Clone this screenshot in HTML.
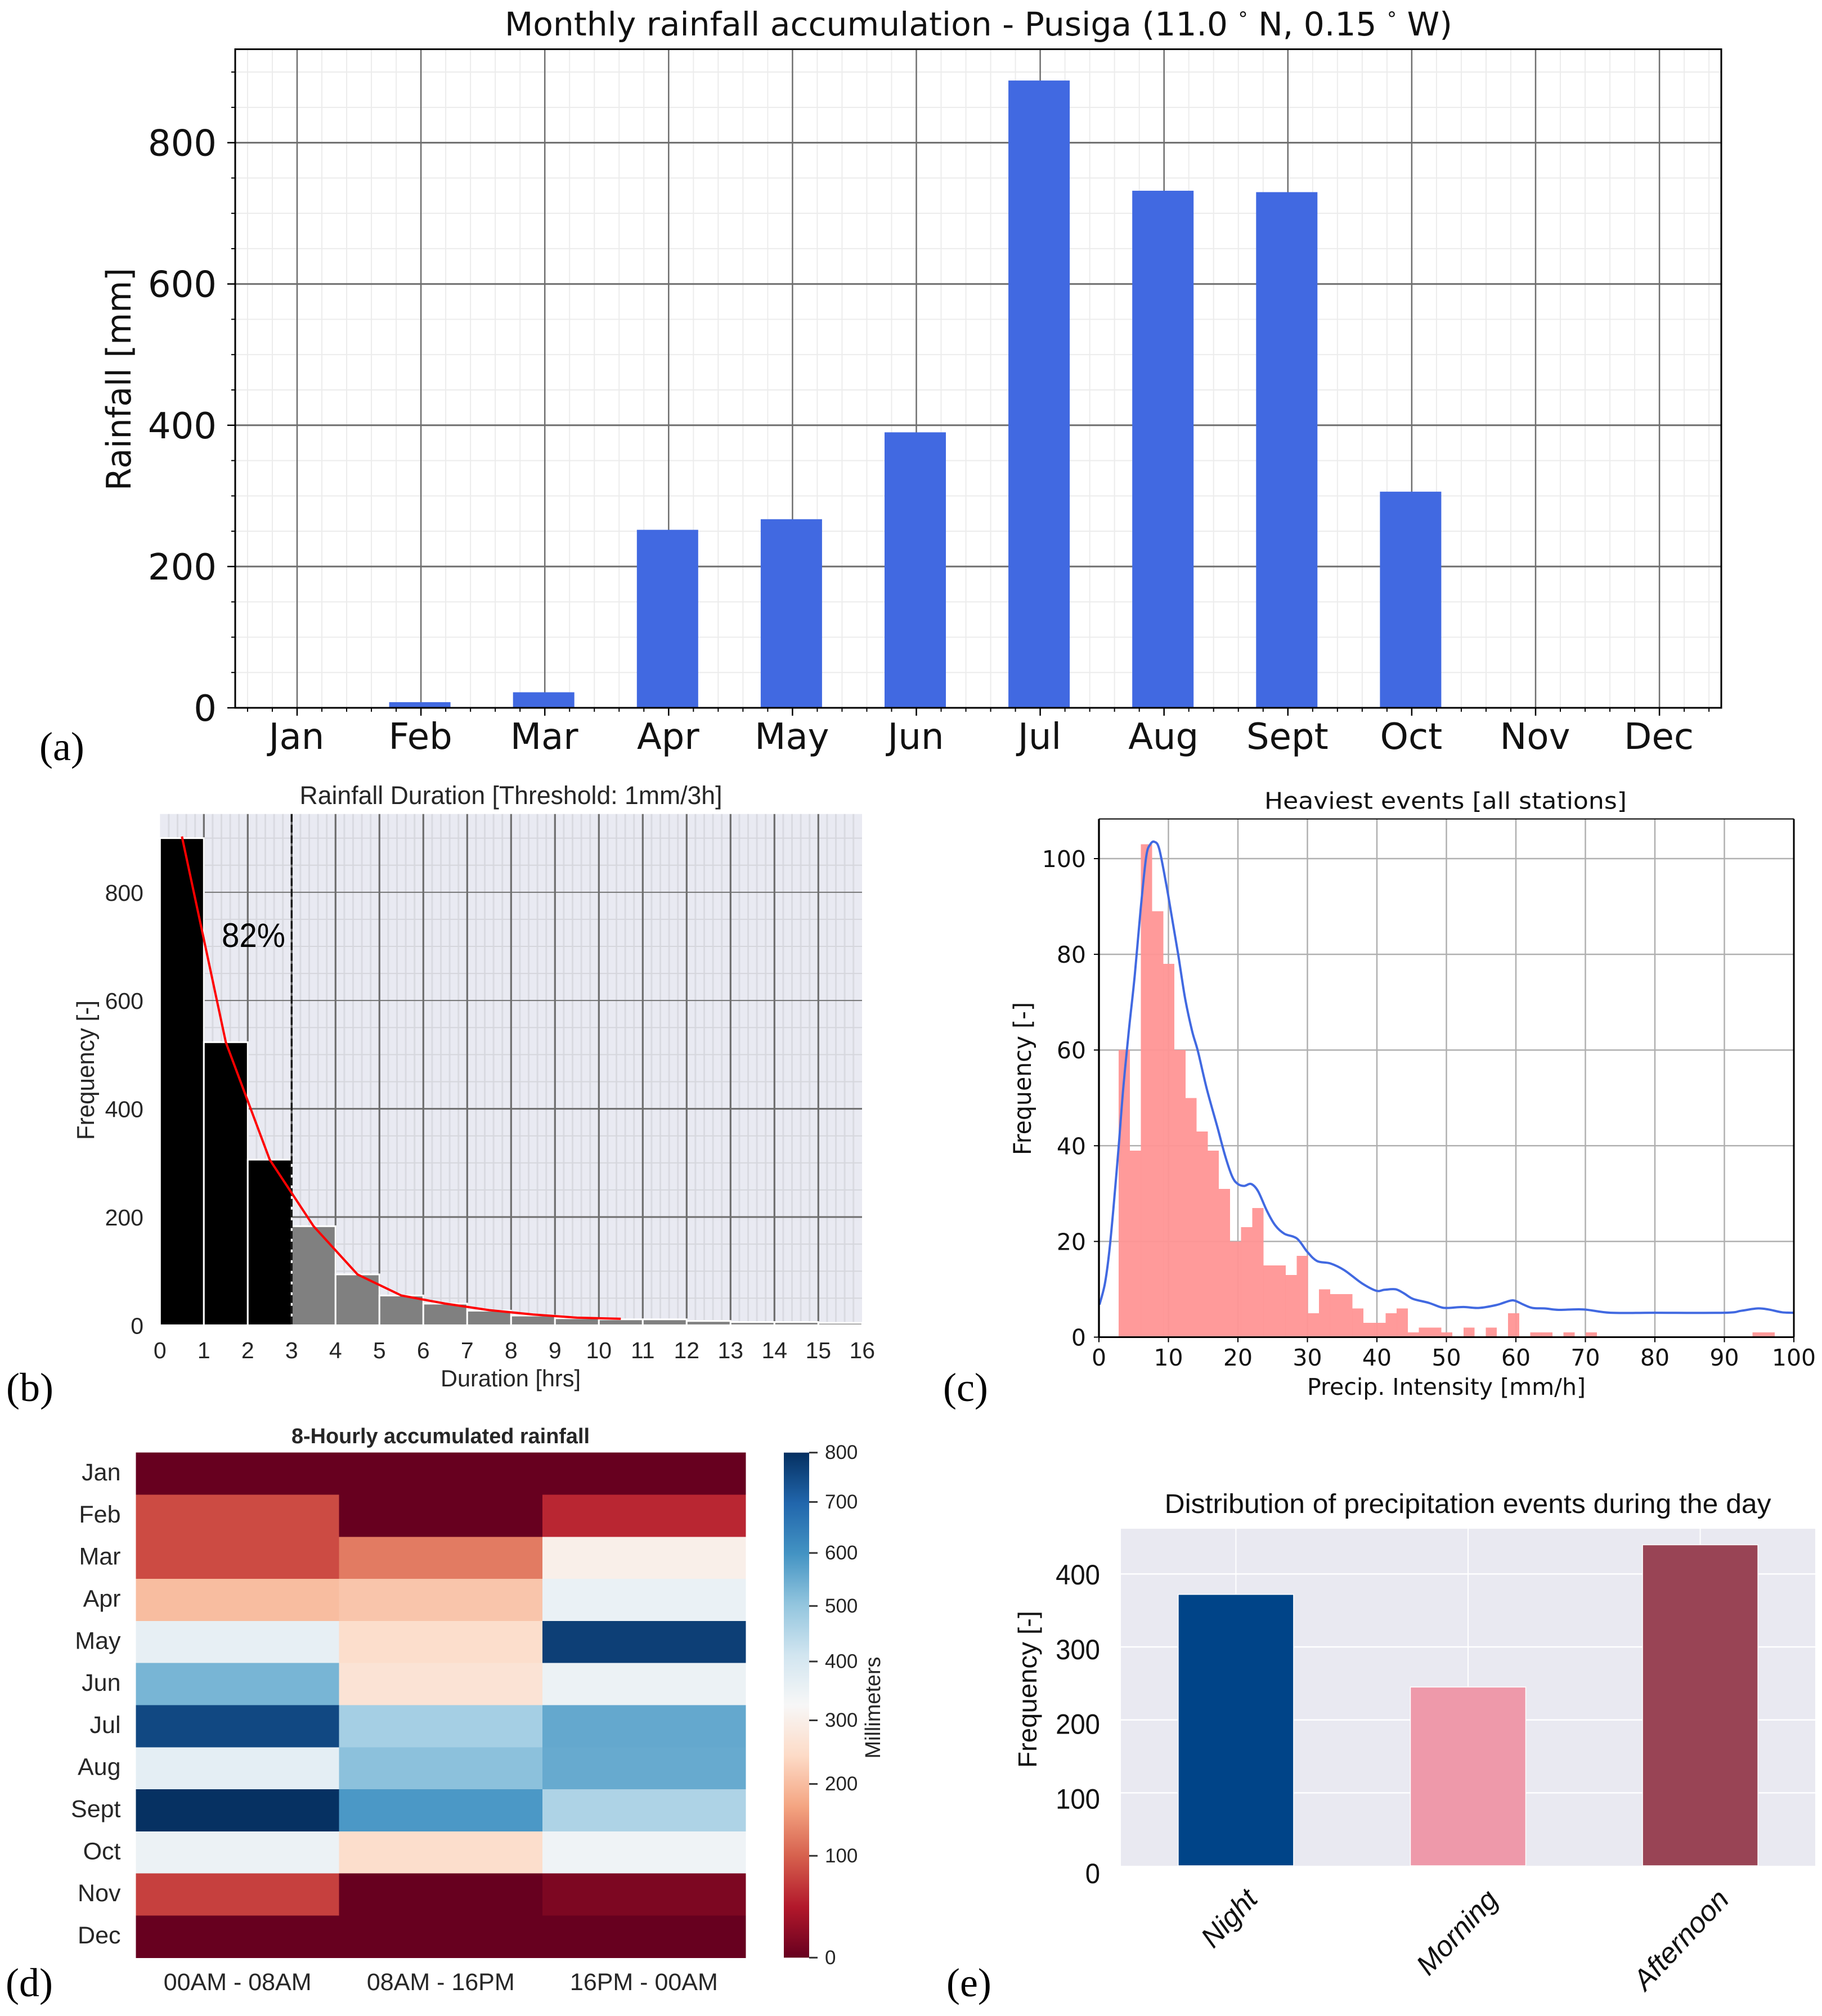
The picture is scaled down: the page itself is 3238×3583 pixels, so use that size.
<!DOCTYPE html>
<html lang="en">
<head>
<meta charset="utf-8">
<title>Rainfall statistics - Pusiga</title>
<style>
html,body{margin:0;padding:0;background:#fff;}
svg{display:block;}
text{font-family:"Liberation Sans",sans-serif;}
.dv{font-family:"DejaVu Sans",sans-serif;}
.sf{font-family:"Liberation Serif",serif;fill:#000;font-size:72px;}
</style>
</head>
<body>
<svg id="fig" xmlns="http://www.w3.org/2000/svg" width="3238" height="3583" viewBox="0 0 3238 3583">
  <defs>
    <linearGradient id="rdbu" x1="0" y1="1" x2="0" y2="0"></linearGradient>
  </defs>
  <rect width="3238" height="3583" fill="#fff"/>
  <g id="panelA"></g>
  <g id="panelB"></g>
  <g id="panelC"></g>
  <g id="panelD"></g>
  <g id="panelE"></g>

  <text class="dv" x="897" y="63" font-size="58" fill="#111" textLength="1684" lengthAdjust="spacingAndGlyphs">Monthly rainfall accumulation - Pusiga (11.0 <tspan font-size="34" dy="-18">°</tspan><tspan dy="18"> N, 0.15 </tspan><tspan font-size="34" dy="-18">°</tspan><tspan dy="18"> W)</tspan></text>
  <text class="dv" transform="translate(232,674) rotate(-90)" text-anchor="middle" font-size="60" fill="#111" textLength="396" lengthAdjust="spacingAndGlyphs">Rainfall [mm]</text>
  <text class="sf" x="70" y="1351">(a)</text>

  <text x="532.5" y="1429" font-size="45" fill="#262626" textLength="751" lengthAdjust="spacingAndGlyphs">Rainfall Duration [Threshold: 1mm/3h]</text>
  <text x="783" y="2464" font-size="42" fill="#262626" textLength="249" lengthAdjust="spacingAndGlyphs">Duration [hrs]</text>
  <text transform="translate(167,1902) rotate(-90)" text-anchor="middle" font-size="44" fill="#262626" textLength="248" lengthAdjust="spacingAndGlyphs">Frequency [-]</text>
  <text class="sf" x="11" y="2490">(b)</text>

  <text class="dv" x="2247" y="1437.5" font-size="41" fill="#111" textLength="644" lengthAdjust="spacingAndGlyphs">Heaviest events [all stations]</text>
  <text class="dv" x="2323" y="2479" font-size="41" fill="#111" textLength="495" lengthAdjust="spacingAndGlyphs">Precip. Intensity [mm/h]</text>
  <text class="dv" transform="translate(1832,1917) rotate(-90)" text-anchor="middle" font-size="43" fill="#111" textLength="272" lengthAdjust="spacingAndGlyphs">Frequency [-]</text>
  <text class="sf" x="1676" y="2490">(c)</text>

  <text x="518" y="2565" font-size="38" font-weight="bold" fill="#262626" textLength="530" lengthAdjust="spacingAndGlyphs">8-Hourly accumulated rainfall</text>
  <text transform="translate(1564,3035) rotate(-90)" text-anchor="middle" font-size="38" fill="#262626" textLength="181" lengthAdjust="spacingAndGlyphs">Millimeters</text>
  <text class="sf" x="10" y="3548">(d)</text>

  <text x="2069.6" y="2689" font-size="48" fill="#111" textLength="1078" lengthAdjust="spacingAndGlyphs">Distribution of precipitation events during the day</text>
  <text transform="translate(1842,3002.5) rotate(-90)" text-anchor="middle" font-size="46" fill="#111" textLength="279" lengthAdjust="spacingAndGlyphs">Frequency [-]</text>
  <text class="sf" x="1682" y="3548">(e)</text>
</svg>

<script>
/* ---------- Panel (a) data ---------- */
const monthLabels = ["Jan","Feb","Mar","Apr","May","Jun","Jul","Aug","Sept","Oct","Nov","Dec"];
const monthlyRain = [0,8,22,252,267,390,888,732,730,306,0,0];
const monthlyYTicks = [0,200,400,600,800];

/* ---------- Panel (b) data ---------- */
const durationBinCounts = [900,523,306,183,94,55,40,27,18,13,11,11,8,6,6,4.5];
const durationCurveHours = [0.5,1.5,2.5,3.5,4.5,5.5,6.5,7.5,8.5,9.5,10.5];
const durationCurveFreq = [903,523,306,183,94,55,40,28,20,14,12];
const durationXTicks = [0,1,2,3,4,5,6,7,8,9,10,11,12,13,14,15,16];
const durationYTicks = [0,200,400,600,800];
const durationThreshold = 3;

/* ---------- Panel (c) data ---------- */
const intensityCounts = [60,39,103,89,78,60,50,43,39,31,20,23,27,15,15,13,17,5,10,9,9,6,3,3,5,6,1,2,2,1,0,2,0,2,0,5,0,1,1,0,1,0,1,0,0,0,0,0,0,0,0,0,0,0,0,0,0,1,1,0];
const kdeIntensity = [0.08,0.83,1.45,2.07,2.85,3.5,4.3,5.17,6,6.8,7.4,8,8.68,9.7,10.5,11.4,12.4,13.4,14.25,15.5,17.1,18.2,19.2,20,20.9,21.9,22.9,24.2,25.4,26.7,28.5,30,31.4,33.3,35.3,37.8,39.9,41.1,42.67,43.85,45.2,47.4,49.1,50.1,52.45,54.6,57.15,59.1,59.9,61.1,62.4,64.2,66.15,69.7,73.6,79.9,90,92.4,94.7,96.3,98.3,100];
const kdeFrequency = [6.8,11,17.4,26.7,40,52,64,75.8,89.4,100.4,103,103.5,102,94.5,87.7,80,70.8,64,59.7,52,43.6,37.7,33.5,32,31.6,32,30.5,26.3,23.3,21.6,20.6,17.8,15.9,15.4,14,11.3,9.7,9.9,10,9.2,8,7.2,6.3,6.1,6.3,6.1,6.7,7.6,7.6,6.8,6.1,6,5.7,5.8,5.1,5.1,5.1,5.5,6,5.8,5.2,5.1];
const intensityXTicks = [0,10,20,30,40,50,60,70,80,90,100];
const intensityYTicks = [0,20,40,60,80,100];

/* ---------- Panel (d) data ---------- */
const heatRows = ["Jan","Feb","Mar","Apr","May","Jun","Jul","Aug","Sept","Oct","Nov","Dec"];
const heatCols = ["00AM - 08AM","08AM - 16PM","16PM - 00AM"];
const heatNight = [0,81,81,200,362,534,754,367,798,350,71,0];
const heatDay = [0,0,125,212,251,267,475,511,589,251,0,0];
const heatEvening = [0,51,300,354,771,350,558,555,462,342,8,0];
const colorbarTicks = [0,100,200,300,400,500,600,700,800];

/* ---------- Panel (e) data ---------- */
const dayParts = ["Night","Morning","Afternoon"];
const dayPartCounts = [372,245,440];
const dayPartYTicks = [0,100,200,300,400];
const dayPartColors = ["#004488","#EE99AA","#994455"];

/* ---------- helpers ---------- */
const NS = "http://www.w3.org/2000/svg";
function mk(parent, tag, attrs, name) {
  const el = document.createElementNS(NS, tag);
  for (const k in attrs) el.setAttribute(k, attrs[k]);
  
  
  parent.appendChild(el);
  return el;
}
function line(p, x1, y1, x2, y2, stroke, w, name, extra) {
  return mk(p, "line", Object.assign({x1, y1, x2, y2, stroke, "stroke-width": w}, extra || {}), name);
}
function rect(p, x, y, w, h, fill, name, extra) {
  return mk(p, "rect", Object.assign({x, y, width: w, height: h, fill}, extra || {}), name);
}
function label(p, x, y, str, size, fill, anchor, cls, name) {
  const attrs = {x, y, "font-size": size, fill, "text-anchor": anchor};
  if (cls) attrs["class"] = cls;
  const el = mk(p, "text", attrs, name);
  el.textContent = str;
  return el;
}
function smoothPath(pts) {
  let d = "M" + pts[0][0].toFixed(1) + " " + pts[0][1].toFixed(1);
  for (let i = 0; i < pts.length - 1; i++) {
    const p0 = pts[Math.max(i - 1, 0)], p1 = pts[i], p2 = pts[i + 1], p3 = pts[Math.min(i + 2, pts.length - 1)];
    const c1x = p1[0] + (p2[0] - p0[0]) / 6, c1y = p1[1] + (p2[1] - p0[1]) / 6;
    const c2x = p2[0] - (p3[0] - p1[0]) / 6, c2y = p2[1] - (p3[1] - p1[1]) / 6;
    d += " C" + c1x.toFixed(1) + " " + c1y.toFixed(1) + " " + c2x.toFixed(1) + " " + c2y.toFixed(1) + " " + p2[0].toFixed(1) + " " + p2[1].toFixed(1);
  }
  return d;
}

/* ---------- Panel (a) ---------- */
(function () {
  const g = document.getElementById("panelA");
  const L = 418, R = 3059, T = 87.5, B = 1258;
  const x = i => 528 + 220.1 * i;
  const y = v => B - 1.2555 * v;
  for (let k = -2; k <= 57; k++) {
    if (k % 5 === 0) continue;
    const px = x(k * 0.2);
    line(g, px, T, px, B, "#ececec", 2, "minor-grid-x");
    line(g, px, B, px, B + 7, "#000", 2, "minor-tick-x");
  }
  for (let v = 50; v <= 900; v += 50) {
    line(g, L, y(v), R, y(v), "#ececec", 2, "minor-grid-y");
    line(g, L - 7, y(v), L, y(v), "#000", 2, "minor-tick-y");
  }
  monthLabels.forEach((m, i) => {
    line(g, x(i), T, x(i), B, "#6e6e6e", 2.5, "major-grid-x");
    line(g, x(i), B, x(i), B + 14, "#000", 2.5, "tick-x");
    label(g, x(i) - 1, 1331, m, 64, "#111", "middle", "dv", "month-label");
  });
  monthlyYTicks.forEach(v => {
    if (v > 0) line(g, L, y(v), R, y(v), "#6e6e6e", 3, "major-grid-y");
    line(g, L - 14, y(v), L, y(v), "#000", 2.5, "tick-y");
    label(g, 385, y(v) + 23, String(v), 64, "#111", "end", "dv", "y-tick-label");
  });
  monthlyRain.forEach((v, i) => {
    if (v > 0) rect(g, x(i) - 2 - 54.5, y(v), 109, B - y(v), "#4169e1", "bar-" + monthLabels[i].toLowerCase());
  });
  rect(g, L, T, R - L, B - T, "none", "plot-frame", {stroke: "#000", "stroke-width": 3});
})();

/* ---------- Panel (b) ---------- */
(function () {
  const g = document.getElementById("panelB");
  const L = 284.3, R = 1532, T = 1446.7, B = 2355.4;
  const x = v => 284.3 + 78 * v;
  const y = v => B - 0.962 * v;
  rect(g, L, T, R - L, B - T, "#e9eaf2", "plot-background");
  for (let k = 1; k < 80; k++) {
    if (k % 5 === 0) continue;
    line(g, x(k * 0.2), T, x(k * 0.2), B, "#d9dae1", 3, "minor-grid-x");
  }
  for (let v = 50; v <= 900; v += 50) {
    if (v % 200 === 0) continue;
    line(g, L, y(v), R, y(v), "#d5d6dc", 2, "minor-grid-y");
  }
  durationYTicks.forEach(v => {
    if (v > 0) line(g, L, y(v), R, y(v), "#6e6e6e", v >= 600 ? 1.8 : 3, "major-grid-y");
    label(g, 255, y(v) + 15, String(v), 41, "#262626", "end", null, "y-tick-label");
  });
  durationXTicks.forEach(v => {
    if (v > 0 && v < 16) line(g, x(v), T, x(v), B, "#6e6e6e", 3.2, "major-grid-x");
    label(g, x(v), 2414, String(v), 41, "#262626", "middle", null, "x-tick-label");
  });
  durationBinCounts.forEach((c, i) => {
    rect(g, x(i), y(c), 78, B - y(c), i < durationThreshold ? "#000" : "#808080", "duration-bar", {stroke: "#fff", "stroke-width": 3});
  });
  line(g, x(durationThreshold), T, x(durationThreshold), B, "#1a1a1a", 3.5, "threshold-line", {"stroke-dasharray": "14 5"});
  const pts = durationCurveHours.map((h, i) => x(h).toFixed(1) + "," + y(durationCurveFreq[i]).toFixed(1)).join(" ");
  mk(g, "polyline", {points: pts, fill: "none", stroke: "#ff0000", "stroke-width": 4}, "fitted-curve");
  const pct = label(g, 394, 1683, "82%", 60, "#000", "start", null, "threshold-percentage");
  pct.setAttribute("textLength", "113");
  pct.setAttribute("lengthAdjust", "spacingAndGlyphs");
})();

/* ---------- Panel (c) ---------- */
(function () {
  const g = document.getElementById("panelC");
  const L = 1953, R = 3188, T = 1455.5, B = 2376.5;
  const x = v => 1953 + 12.35 * v;
  const y = v => B - 8.505 * v;
  const binStart = 2.85, binWidth = 1.6;
  intensityXTicks.forEach(v => {
    if (v > 0 && v < 100) line(g, x(v), T, x(v), B, "#b0b0b0", 2.5, "grid-x");
    line(g, x(v), B, x(v), B + 9, "#000", 2, "tick-x");
    label(g, x(v), 2427, String(v), 41, "#111", "middle", "dv", "x-tick-label");
  });
  intensityYTicks.forEach(v => {
    if (v > 0) line(g, L, y(v), R, y(v), "#b0b0b0", 2.5, "grid-y");
    line(g, L - 9, y(v), L, y(v), "#000", 2, "tick-y");
    label(g, 1930, y(v) + 15, String(v), 41, "#111", "end", "dv", "y-tick-label");
  });
  intensityCounts.forEach((c, i) => {
    if (c > 0) {
      const x0 = x(binStart + binWidth * i);
      rect(g, x0, y(c), 12.35 * binWidth + 0.2, B - y(c), "#ff9494", "intensity-bar", {"fill-opacity": 0.94, "shape-rendering": "crispEdges"});
    }
  });
  const pts = kdeIntensity.map((v, i) => [x(v), y(kdeFrequency[i])]);
  mk(g, "path", {d: smoothPath(pts), fill: "none", stroke: "#4169e1", "stroke-width": 4}, "density-curve");
  line(g, L, T, R, T, "#000", 2, "spine-top");
  line(g, R, T, R, B, "#000", 3, "spine-right");
  line(g, L, T, L, B, "#000", 3.4, "spine-left");
  line(g, L, B, R, B, "#000", 3, "spine-bottom");
})();

/* ---------- Panel (d) ---------- */
(function () {
  const g = document.getElementById("panelD");
  const L = 241.6, T = 2581.7, B = 3479.3, colW = 361.1, rowH = (B - T) / 12;
  const CB_L = 1393, CB_W = 45;
  const RdBu = ["#67001f","#b2182b","#d6604d","#f4a582","#fddbc7","#f7f7f7","#d1e5f0","#92c5de","#4393c3","#2166ac","#053061"];
  const norm = v => Math.pow(v / 800, 0.77);
  const hex = h => [1, 3, 5].map(i => parseInt(h.substr(i, 2), 16));
  function color(v) {
    const t = Math.min(norm(v), 1) * 10, i = Math.min(Math.floor(t), 9), f = t - i;
    const a = hex(RdBu[i]), b = hex(RdBu[i + 1]);
    return "rgb(" + a.map((c, k) => Math.round(c + (b[k] - c) * f)).join(",") + ")";
  }
  const series = [heatNight, heatDay, heatEvening];
  series.forEach((arr, c) => {
    arr.forEach((v, r) => {
      rect(g, L + c * colW, T + r * rowH, colW + 0.5, rowH + 0.5, color(v), "heat-cell-" + heatRows[r].toLowerCase() + "-" + c, {"shape-rendering": "crispEdges"});
    });
    label(g, L + (c + 0.5) * colW, 3537, heatCols[c], 43, "#262626", "middle", null, "heat-column-label");
  });
  heatRows.forEach((m, r) => {
    label(g, 214.5, T + (r + 0.5) * rowH + 12, m, 43, "#262626", "end", null, "heat-row-label");
  });
  const grad = document.getElementById("rdbu");
  RdBu.forEach((c, i) => {
    const s = document.createElementNS(NS, "stop");
    s.setAttribute("offset", (i * 10) + "%");
    s.setAttribute("stop-color", c);
    grad.appendChild(s);
  });
  rect(g, CB_L, T, CB_W, B - T, "url(#rdbu)", "colorbar");
  colorbarTicks.forEach(v => {
    const py = B - norm(v) * (B - T);
    line(g, CB_L + CB_W, py, CB_L + CB_W + 15, py, "#333", 3, "colorbar-tick");
    label(g, 1466, py + 11.5, String(v), 35, "#262626", "start", null, "colorbar-tick-label");
  });
})();

/* ---------- Panel (e) ---------- */
(function () {
  const g = document.getElementById("panelE");
  const L = 1992, R = 3226, T = 2717, B = 3316;
  const x = i => 2196.4 + 412.6 * i;
  const y = v => B - 1.2965 * v;
  const tickLabelY = v => 3347 - 1.3275 * v;
  const nameBaseY = [3421, 3446, 3459], nameBaseX = [2197, 2602, 3000];
  rect(g, L, T, R - L, B - T, "#e9e9f1", "plot-background");
  dayPartYTicks.forEach(v => {
    if (v > 0) line(g, L, y(v), R, y(v), "#fff", 2.5, "grid-y");
    const t = label(g, 1955, tickLabelY(v), String(v), 50, "#111", "end", null, "y-tick-label");
    t.setAttribute("textLength", String(String(v).length * 26.3));
    t.setAttribute("lengthAdjust", "spacingAndGlyphs");
  });
  dayParts.forEach((n, i) => {
    line(g, x(i), T, x(i), B, "#fff", 2, "grid-x");
    rect(g, x(i) - 102.5, y(dayPartCounts[i]), 205, B - y(dayPartCounts[i]), dayPartColors[i], "bar-" + n.toLowerCase(), {stroke: "#fff", "stroke-width": 1.5});
    const t = label(g, 0, 0, n, 51, "#111", "middle", null, "category-label");
    t.setAttribute("font-style", "italic");
    t.setAttribute("transform", "translate(" + nameBaseX[i] + "," + nameBaseY[i] + ") rotate(-47)");
  });
})();
</script>
</body>
</html>
